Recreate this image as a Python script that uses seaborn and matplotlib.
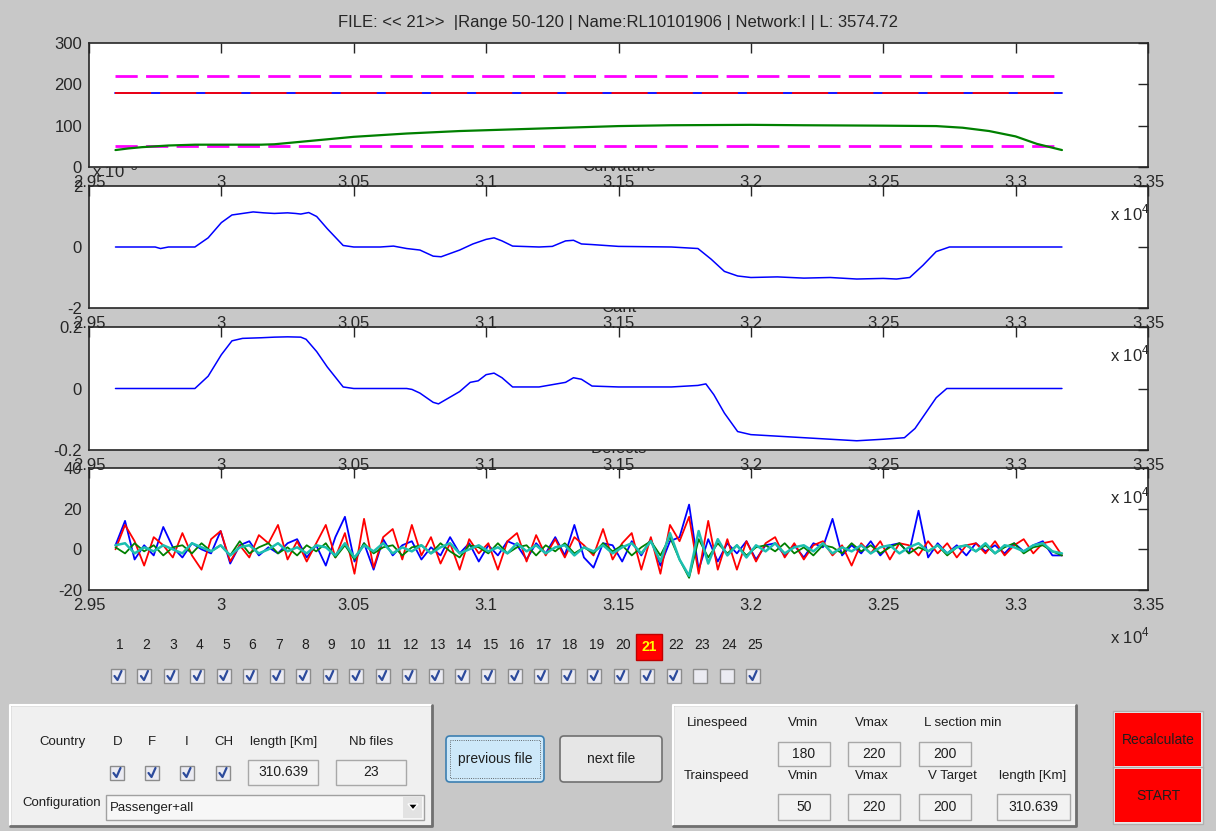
import numpy as np
import matplotlib
matplotlib.use("Agg")
import matplotlib.pyplot as plt
import seaborn as sns
from matplotlib.patches import Rectangle, FancyBboxPatch, Polygon

sns.set_style("white")
plt.rcParams['font.family'] = ['Liberation Sans', 'DejaVu Sans']
plt.rcParams['mathtext.fontset'] = 'custom'
plt.rcParams['mathtext.rm'] = 'Liberation Sans'

# ---- data (x in units of 1e4) ----
X_START, X_END = 2.96, 3.3175
TITLE = "FILE: << 21>>  |Range 50-120 | Name:RL10101906 | Network:I | L: 3574.72"
XTICKS = [2.95, 3.0, 3.05, 3.1, 3.15, 3.2, 3.25, 3.3, 3.35]
XLABELS = ["2.95", "3", "3.05", "3.1", "3.15", "3.2", "3.25", "3.3", "3.35"]

line_vmin, line_vmax = 180, 220
train_vmin = 50

speed_x = [2.96, 2.965, 2.97, 2.975, 2.98, 2.985, 2.99, 3.0, 3.01, 3.015, 3.02, 3.03, 3.04,
           3.05, 3.06, 3.07, 3.08, 3.09, 3.1, 3.12, 3.14, 3.15, 3.17, 3.2, 3.22, 3.25,
           3.27, 3.28, 3.29, 3.3, 3.308, 3.3175]
speed_y = [41, 45, 48, 50, 52, 53, 54, 54, 54, 54, 55, 61, 67, 73, 77, 81, 84, 87, 89, 93,
           97, 99, 101, 102, 101, 100, 99, 95, 87, 74, 56, 41]

curv_x = [2.96, 2.975, 2.977, 2.98, 2.99, 2.995, 3.0, 3.004, 3.008, 3.012, 3.016, 3.02,
          3.025, 3.028, 3.03, 3.033, 3.036, 3.04, 3.046, 3.05, 3.06, 3.065, 3.07, 3.075,
          3.08, 3.083, 3.09, 3.095, 3.1, 3.103, 3.106, 3.11, 3.12, 3.125, 3.13, 3.133,
          3.136, 3.14, 3.15, 3.17, 3.18, 3.185, 3.19, 3.195, 3.2, 3.21, 3.22, 3.23, 3.24,
          3.25, 3.255, 3.26, 3.265, 3.27, 3.275, 3.3175]
curv_y = [0, 0, -0.05, 0, 0, 0.3, 0.8, 1.05, 1.1, 1.15, 1.12, 1.1, 1.12, 1.1, 1.08, 1.13,
          1.0, 0.6, 0.05, 0, 0, 0.03, -0.05, -0.1, -0.3, -0.32, -0.1, 0.1, 0.25, 0.3, 0.2,
          0.03, 0, 0.02, 0.2, 0.22, 0.1, 0.08, 0.02, 0, -0.05, -0.4, -0.8, -0.95, -1.0,
          -0.98, -1.02, -1.0, -1.05, -1.03, -1.05, -1.0, -0.6, -0.15, 0, 0]

cant_x = [2.96, 2.99, 2.995, 3.0, 3.004, 3.008, 3.015, 3.02, 3.025, 3.03, 3.032, 3.036,
          3.04, 3.046, 3.05, 3.07, 3.072, 3.075, 3.08, 3.082, 3.085, 3.09, 3.094, 3.097,
          3.1, 3.103, 3.106, 3.11, 3.12, 3.13, 3.133, 3.136, 3.14, 3.15, 3.17, 3.18, 3.183,
          3.186, 3.19, 3.195, 3.2, 3.21, 3.22, 3.23, 3.24, 3.25, 3.258, 3.262, 3.266, 3.27,
          3.274, 3.3175]
cant_y = [0, 0, 0.04, 0.11, 0.155, 0.163, 0.165, 0.167, 0.168, 0.167, 0.16, 0.12, 0.07,
          0.005, 0, 0, -0.003, -0.015, -0.045, -0.05, -0.035, -0.01, 0.02, 0.025, 0.045,
          0.05, 0.035, 0.005, 0.005, 0.02, 0.035, 0.03, 0.008, 0.005, 0.005, 0.01, 0.015,
          -0.02, -0.08, -0.14, -0.15, -0.155, -0.16, -0.165, -0.17, -0.165, -0.16, -0.13,
          -0.08, -0.03, 0, 0]

def_blue = [2, 14, -5, 2, -3, 11, 1, -4, 3, 0,
            -2, 9, -7, 2, 4, -3, 1, -2, 3, 5,
            -4, 2, -8, 6, 16, -6, 3, -10, 5, -3,
            2, 4, -5, 1, -3, 6, -2, 3, -6, 2,
            -3, 4, 2, -5, 3, -2, 6, -3, 12, -4,
            -9, 3, 2, -6, 4, -3, 5, -8, 4, 6,
            22, -10, 5, -6, 3, -2, 4, -5, 2, 3,
            -3, 2, -4, 3, 1, 15, -3, 2, -2, 4,
            -3, 2, 3, -2, 19, -4, 3, -2, 2, -3,
            3, -1, 2, -2, 3, -1, 2, 4, -3, -3]
def_red = [0, 12, 4, -8, 6, 2, -4, 8, -3, -10,
           5, 9, -6, 2, -4, 7, 3, 12, -5, 4,
           -6, 3, 12, -4, 8, -12, 15, -9, 6, 10,
           -5, 12, -3, 6, -7, 3, -10, 5, -2, 3,
           -10, 4, 8, -6, 7, -3, 5, -4, 6, 2,
           -3, 10, -5, 3, 8, -10, 6, -12, 12, 4,
           16, -12, 14, -10, 5, -10, 4, -6, 3, 6,
           -4, 3, -5, 2, 4, -3, 2, -8, 3, -2,
           4, -5, 3, 2, -3, 4, -2, 3, -4, 2,
           3, -2, 4, -3, 2, 5, -2, 3, 4, -3]
def_green = [1, -2, 3, -1, 2, -3, 1, 2, -2, 3,
             -1, 2, -3, 4, -2, 1, 3, -2, 1, -3,
             2, -1, 3, -4, 2, -5, 3, -2, 1, 2,
             -3, 1, 2, -2, 3, -1, -4, 2, 1, -2,
             3, -2, 1, 2, -3, 2, -1, 3, -2, 1,
             -2, 3, -1, 2, -3, 1, 4, -3, 6, -5,
             -14, 5, -4, 3, -2, 2, -3, 1, 2, -1,
             3, -2, 1, -3, 2, 1, -2, 3, -1, 2,
             -2, 1, 3, -2, 1, -1, 2, -3, 1, 2,
             -1, 2, -2, 1, 3, -2, 1, 2, -1, -3]
def_cyan = [2, 3, -2, 1, -1, 2, 0, -2, 3, 1,
            -1, 2, -3, 1, 2, -2, 0, 3, -1, 1,
            -2, 2, 1, -3, 3, -4, 2, -1, 3, -2,
            1, -1, 2, -2, 1, 3, -2, 0, 2, -1,
            1, -2, 3, -1, 2, -2, 1, 2, -3, 1,
            -1, 2, -2, 1, 3, -2, 4, -6, 8, -5,
            -13, 9, -7, 5, -3, 2, -4, 2, -1, 3,
            -2, 1, 2, -1, 3, -2, 1, -1, 2, -2,
            1, 2, -2, 1, 3, -1, 2, -2, 1, 2,
            -1, 3, -2, 2, 1, -1, 2, 3, -1, -2]

file_numbers = list(range(1, 26))
file_checked = [True] * 22 + [False, False, True]
current_file = 21

# ---- figure ----
W, H = 1216, 831
BG = '#c8c8c8'
INK = '#262626'


def rect(l, t, r, b):
    return [l / W, 1 - b / H, (r - l) / W, (b - t) / H]


fig = plt.figure(figsize=(W / 100, H / 100), dpi=100, facecolor=BG)

rows = [(43, 167, (0, 300), [0, 100, 200, 300], ["0", "100", "200", "300"]),
        (186, 308, (-2, 2), [-2, 0, 2], ["-2", "0", "2"]),
        (327, 450, (-0.2, 0.2), [-0.2, 0, 0.2], ["-0.2", "0", "0.2"]),
        (468, 590, (-20, 40), [-20, 0, 20, 40], ["-20", "0", "20", "40"])]
axes = []
for k, (t, b, ylim, yt, yl) in enumerate(rows):
    ax = fig.add_axes(rect(89, t, 1148, b))
    ax.set_zorder(10 - k)
    ax.set_facecolor('white')
    ax.set_xlim(2.95, 3.35)
    ax.set_ylim(*ylim)
    ax.set_xticks(XTICKS)
    ax.set_xticklabels(XLABELS)
    ax.set_yticks(yt)
    ax.set_yticklabels(yl)
    ax.tick_params(direction='in', length=7, width=1, top=True, right=True,
                   labelsize=12, color=INK, labelcolor=INK)
    ax.tick_params(axis='x', pad=6)
    ax.tick_params(axis='y', pad=5)
    for s in ax.spines.values():
        s.set_color(INK)
        s.set_linewidth(1.2)
    ax.text(1150 / W, 1 - (b + 46) / H, r'x 10$^4$', transform=fig.transFigure,
            ha='right', va='center', fontsize=12, color=INK)
    axes.append(ax)

ax1, ax2, ax3, ax4 = axes

# speed panel
ax1.plot([X_START, X_END], [line_vmax, line_vmax], color='#ff00ff', lw=2, ls=(0, (8, 3)))
ax1.plot([X_START, X_END], [train_vmin, train_vmin], color='#ff00ff', lw=2, ls=(0, (8, 3)))
ax1.plot([X_START, X_END], [line_vmin, line_vmin], color='#0000ff', lw=1.3)
ax1.plot([X_START, X_END], [line_vmin, line_vmin], color='#ff0000', lw=1.3, ls=(0, (20, 5)))
sns.lineplot(x=speed_x, y=speed_y, ax=ax1, color='#008000', linewidth=1.6,
             sort=False, estimator=None)

sns.lineplot(x=curv_x, y=curv_y, ax=ax2, color='#0000ff', linewidth=1.1,
             sort=False, estimator=None)
sns.lineplot(x=cant_x, y=cant_y, ax=ax3, color='#0000ff', linewidth=1.1,
             sort=False, estimator=None)

for vals, col, lw in [(def_blue, '#0000ff', 1.3), (def_red, '#ff0000', 1.3),
                      (def_green, '#008000', 1.3), (def_cyan, '#1cbfb0', 1.8)]:
    xs = np.linspace(X_START, X_END, len(vals))
    sns.lineplot(x=xs, y=vals, ax=ax4, color=col, linewidth=lw, sort=False, estimator=None)

# titles sit partly behind the panel above, as in the GUI
for ax, name in [(ax2, 'Curvature'), (ax3, 'Cant'), (ax4, 'Defects')]:
    ax.set_title(name, fontsize=12, color=INK, pad=10.5)
    ax.set_xlabel('')
    ax.set_ylabel('')
ax1.set_xlabel('')
ax1.set_ylabel('')
ax2.text(92 / W, 1 - 177 / H, r'x 10$^{-3}$', transform=fig.transFigure,
         ha='left', va='baseline', fontsize=12, color=INK)

fig.text(618 / W, 1 - 22 / H, TITLE, ha='center', va='center', fontsize=12, color=INK)

# ---- GUI controls, drawn in pixel coordinates ----
gui = fig.add_axes([0, 0, 1, 1], zorder=0)
gui.set_xlim(0, W)
gui.set_ylim(H, 0)
gui.axis('off')
gui.patch.set_alpha(0)
GTXT = '#1e1e1e'


def label(x, y, s, size=9.5, ha='center', **kw):
    gui.text(x, y, s, ha=ha, va='center', fontsize=size, color=kw.pop('color', GTXT), **kw)


def panel(l, t, r, b):
    gui.add_patch(Rectangle((l, t), r - l, b - t, facecolor='#f0f0f0', edgecolor='#a0a0a0', lw=1))
    gui.plot([l, l, r], [b, t, t], color='white', lw=1.5)
    gui.plot([l, r, r], [b, b, t], color='#707070', lw=2)


def box(l, t, r, b, s):
    gui.add_patch(Rectangle((l, t), r - l, b - t, facecolor='#f2f2f2', edgecolor='#a8a8a8', lw=1))
    label((l + r) / 2, (t + b) / 2, s, size=10)


def checkbox(cx, cy, checked=True):
    gui.add_patch(Rectangle((cx - 7, cy - 7), 14, 14, facecolor='#ebebf2', edgecolor='#8c8c8c', lw=1))
    if checked:
        gui.plot([cx - 3.5, cx - 0.5, cx + 3.5], [cy, cy + 4, cy - 5], color='#2c4a9c', lw=1.6)


for n, on in zip(file_numbers, file_checked):
    x = 120 + (n - 1) * 26.46
    if n == current_file:
        gui.add_patch(Rectangle((x - 13, 634), 26, 26, facecolor='#ff0000', edgecolor='#c00000', lw=1))
        label(x, 647, str(n), size=10, color='#ffff00', fontweight='bold')
    else:
        label(x, 645, str(n), size=10)
    checkbox(x - 2, 676, on)

# left panel
panel(10, 705, 432, 826)
for x, s in [(62, 'Country'), (118, 'D'), (152, 'F'), (187, 'I'), (224, 'CH'),
             (284, 'length [Km]'), (371, 'Nb files')]:
    label(x, 742, s)
for x in [117, 152, 187, 223]:
    checkbox(x, 773)
box(248, 760, 318, 785, '310.639')
box(336, 760, 406, 785, '23')
label(62, 803, 'Configuration')
gui.add_patch(Rectangle((106, 795), 318, 25, facecolor='#f7f7f7', edgecolor='#a0a0a0', lw=1))
gui.add_patch(Rectangle((403, 797), 19, 21, facecolor='#e2e2e2', edgecolor='none'))
gui.add_patch(Polygon([[408, 804], [418, 804], [413, 810]], closed=True, facecolor='black'))
label(110, 808, 'Passenger+all', ha='left')

# file buttons
gui.add_patch(FancyBboxPatch((446, 736), 98, 46, boxstyle='round,pad=0,rounding_size=4',
                             facecolor='#cde8f9', edgecolor='#3c7fb1', lw=1.2))
gui.add_patch(Rectangle((450, 740), 90, 38, facecolor='none', edgecolor='#404040', lw=0.6, ls=':'))
label(495, 759, 'previous file', size=10)
gui.add_patch(FancyBboxPatch((560, 736), 102, 46, boxstyle='round,pad=0,rounding_size=4',
                             facecolor='#e6e6e6', edgecolor='#707070', lw=1.2))
label(611, 759, 'next file', size=10)

# speed panel
panel(673, 705, 1076, 826)
for x, s in [(717, 'Linespeed'), (803, 'Vmin'), (872, 'Vmax'), (963, 'L section min')]:
    label(x, 723, s)
for x, s in [(717, 'Trainspeed'), (803, 'Vmin'), (872, 'Vmax'), (952, 'V Target'), (1033, 'length [Km]')]:
    label(x, 776, s)
box(778, 742, 830, 766, '180')
box(848, 742, 900, 766, '220')
box(919, 742, 971, 766, '200')
box(778, 794, 830, 820, '50')
box(848, 794, 900, 820, '220')
box(919, 794, 971, 820, '200')
box(997, 794, 1070, 820, '310.639')

# red action buttons
for t, s in [(713, 'Recalculate'), (769, 'START')]:
    gui.add_patch(Rectangle((1113, t - 2), 90, 57, facecolor='#e8e8e8', edgecolor='#b0b0b0', lw=1))
    gui.add_patch(Rectangle((1115, t), 86, 53, facecolor='#ff0000', edgecolor='none'))
    label(1158, t + 27, s, size=10)

fig.savefig('out.png', dpi=100, facecolor=BG)
